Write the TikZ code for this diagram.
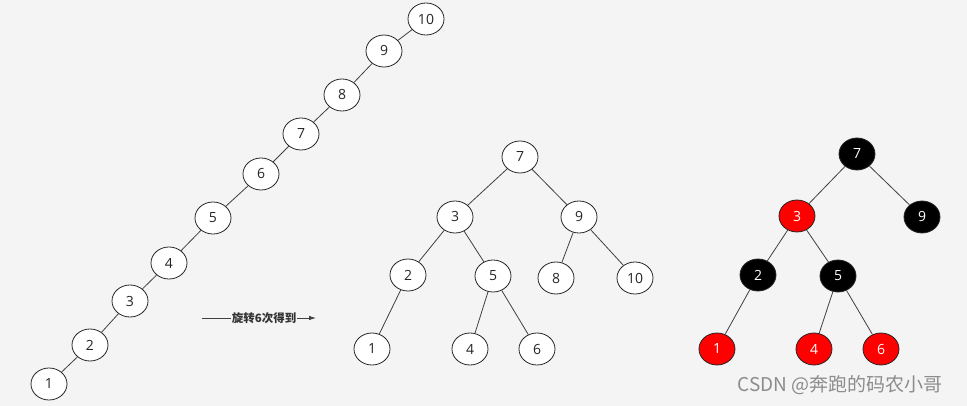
\documentclass[tikz,border=0pt]{standalone}
\usepackage{fontspec}
\setmainfont{Open Sans}
\newfontfamily\cjk{Noto Sans CJK SC}
\usetikzlibrary{shapes.geometric,arrows.meta}
\definecolor{bg}{HTML}{F4F4F4}
\tikzset{
  tn/.style={ellipse,draw=black!85,line width=0.8pt,fill=white,minimum width=36pt,minimum height=32pt,inner sep=0pt,font=\fontsize{14}{16}\selectfont,text=black!85},
  bn/.style={tn,fill=black,text=white},
  rn/.style={tn,fill=red,text=white},
  edge/.style={draw=black!75,line width=0.8pt},
}
\begin{document}
\begin{tikzpicture}[x=1pt,y=-1pt]
\fill[bg] (0,0) rectangle (967,406);
\useasboundingbox (0,0) rectangle (967,406);
% chain
\node[tn] (c10) at (426,19) {10};
\node[tn] (c9) at (384,51) {9};
\node[tn] (c8) at (342,95) {8};
\node[tn] (c7) at (301,134) {7};
\node[tn] (c6) at (261,174) {6};
\node[tn] (c5) at (213,218) {5};
\node[tn] (c4) at (169,263) {4};
\node[tn] (c3) at (130,301) {3};
\node[tn] (c2) at (90,345) {2};
\node[tn] (c1) at (49,384) {1};
\foreach \a/\b in {c10/c9,c9/c8,c8/c7,c7/c6,c6/c5,c5/c4,c4/c3,c3/c2,c2/c1}
  \draw[edge] (\a) -- (\b);
% arrow
\coordinate (as) at (202,318);
\coordinate (ae) at (316,318);
\draw[edge,-{Latex[length=7pt,width=4.5pt]}] (as) -- (ae);
\node[fill=bg,inner sep=1pt,font=\cjk\bfseries\fontsize{11.5}{13}\selectfont,text=black!80] (al) at (264,318) {旋转6次得到};
% middle tree
\node[tn] (m7) at (520,157) {7};
\node[tn] (m3) at (455,217) {3};
\node[tn] (m9) at (579,217) {9};
\node[tn] (m2) at (408,275) {2};
\node[tn] (m5) at (493,276) {5};
\node[tn] (m8) at (556,278) {8};
\node[tn] (m10) at (635,278) {10};
\node[tn] (m1) at (372,349) {1};
\node[tn] (m4) at (470,349) {4};
\node[tn] (m6) at (537,349) {6};
\foreach \a/\b in {m7/m3,m7/m9,m3/m2,m3/m5,m9/m8,m9/m10,m2/m1,m5/m4,m5/m6}
  \draw[edge] (\a) -- (\b);
% right tree
\node[bn] (r7) at (857,154) {7};
\node[rn] (r3) at (797,216) {3};
\node[bn] (r9) at (922,217) {9};
\node[bn] (r2) at (758,275) {2};
\node[bn] (r5) at (838,276) {5};
\node[rn] (r1) at (717,349) {1};
\node[rn] (r4) at (814,349) {4};
\node[rn] (r6) at (881,349) {6};
\foreach \a/\b in {r7/r3,r7/r9,r3/r2,r3/r5,r2/r1,r5/r4,r5/r6}
  \draw[edge] (\a) -- (\b);
% watermark
\node[font=\cjk\fontsize{19}{21}\selectfont,text=black!45] (wm) at (840,385) {CSDN @奔跑的码农小哥};
\end{tikzpicture}
\end{document}
